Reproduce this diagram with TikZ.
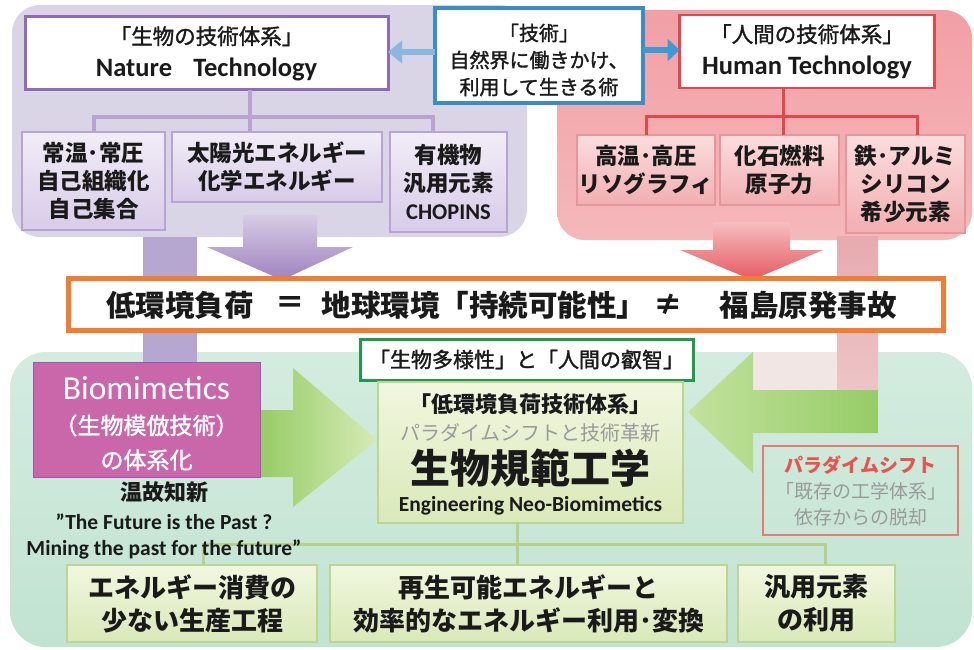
\documentclass[tikz,border=0pt]{standalone}
\usepackage{fontspec}
\setmainfont{Carlito}
\newfontfamily\jp{Noto Sans CJK JP}
\newfontfamily\jpm[FakeBold=1.5]{Noto Sans CJK JP}
\usetikzlibrary{arrows.meta}
\definecolor{purpleReg}{HTML}{DAD4E7}
\definecolor{purpleB}{HTML}{8E6CB4}
\definecolor{pchildTop}{HTML}{F2EDF7}
\definecolor{pchildBot}{HTML}{D8CBE8}
\definecolor{pchildB}{HTML}{B9A4D1}
\definecolor{redRegTop}{HTML}{F29FA5}
\definecolor{redRegBot}{HTML}{F5B8BB}
\definecolor{redB}{HTML}{E2474E}
\definecolor{rchildTop}{HTML}{FBDDDE}
\definecolor{rchildBot}{HTML}{F2AEB1}
\definecolor{rchildB}{HTML}{E5979B}
\definecolor{blueB}{HTML}{3B8DC9}
\definecolor{arrowL}{HTML}{8AB7DF}
\definecolor{arrowR}{HTML}{3E9AD6}
\definecolor{orangeB}{HTML}{F07D31}
\definecolor{greenRegTop}{HTML}{D3ECDF}
\definecolor{greenRegBot}{HTML}{C2E3D1}
\definecolor{greenB}{HTML}{1F9B4B}
\definecolor{magentaBox}{HTML}{C967AA}
\definecolor{garrow}{HTML}{96CC66}
\definecolor{garrowLight}{HTML}{D6EBB6}
\definecolor{centerTop}{HTML}{F1F7DF}
\definecolor{centerBot}{HTML}{D9E9B8}
\definecolor{centerB}{HTML}{BBD592}
\definecolor{connG}{HTML}{B8D08E}
\definecolor{purpleBar}{HTML}{B6A7D0}
\definecolor{pinkBar}{HTML}{E6ABAF}
\definecolor{paraRed}{HTML}{E8534F}
\definecolor{grayText}{HTML}{9A9A9A}
\definecolor{paraB}{HTML}{E87A72}
\definecolor{textDark}{HTML}{1A1A1A}
\definecolor{cornerFill}{HTML}{F1E6E3}
\begin{document}
\begin{tikzpicture}[x=1pt,y=-1pt,
  every node/.style={inner sep=0pt, outer sep=0pt, text=textDark},
  whitebox/.style={rectangle, fill=white, align=center},
  pchild/.style={rectangle, draw=pchildB, line width=1.5pt, top color=pchildTop, bottom color=pchildBot, align=center,
     font=\jp\bfseries\fontsize{22.5}{28}\selectfont},
  rchild/.style={rectangle, draw=rchildB, line width=1.5pt, top color=rchildTop, bottom color=rchildBot, align=center,
     font=\jp\bfseries\fontsize{22.5}{28}\selectfont},
  gchild/.style={rectangle, draw=centerB, line width=1.5pt, top color=centerTop, bottom color=centerBot, align=center,
     font=\jp\bfseries\fontsize{26}{33}\selectfont},
  pconn/.style={draw=pchildB, line width=4pt},
  rconn/.style={draw=redB, line width=3pt},
  gconn/.style={draw=connG, line width=3pt},
  barjp/.style={font=\jp\bfseries\fontsize{29.5}{30}\selectfont}
]
\useasboundingbox (0,0) rectangle (974,650);

% ---------- background regions ----------
\fill[purpleReg, rounded corners=28pt] (12,5) rectangle (527,237);
\shade[top color=redRegTop, bottom color=redRegBot, rounded corners=28pt] (557,10) rectangle (972,240);
\shade[top color=greenRegTop, bottom color=greenRegBot, rounded corners=36pt] (10,352) rectangle (972,647);
\fill[cornerFill] (753,352) rectangle (837,390);

% ---------- vertical bars ----------
\fill[purpleBar] (143,237) rectangle (197,362);
\shade[top color=pinkBar, bottom color=pinkBar!70!white] (837,236) rectangle (878,391);

% ---------- top boxes ----------
\node[whitebox, draw=purpleB, line width=3pt, minimum width=363pt, minimum height=73pt,
      font=\fontsize{21.5}{32}\selectfont] (nature) at (206.5,53.5)
  {{\jpm 「生物の技術体系」}\\{\bfseries\fontsize{26.5}{32}\selectfont Nature\hspace{0.8em}Technology}};
\node[whitebox, draw=redB, line width=2.5pt, minimum width=255pt, minimum height=73pt,
      font=\fontsize{21.5}{32}\selectfont] (human) at (807,51.5)
  {{\jpm 「人間の技術体系」}\\{\bfseries\fontsize{26.5}{32}\selectfont Human Technology}};
\node[whitebox, draw=blueB, line width=4pt, minimum width=208pt, minimum height=95pt] (tech) at (539,55.5) {};
\node[align=center, font=\jpm\fontsize{20}{27}\selectfont] (techtxt) at (539,60)
  {「技術」\\自然界に働きかけ、\\利用して生きる術};

\draw[arrowL, line width=6pt, -{Triangle[length=14pt,width=22pt]}] (tech.west |- 0,52) -- (nature.east |- 0,52);
\draw[arrowR, line width=6pt, -{Triangle[length=12pt,width=22pt]}] (tech.east |- 0,50) -- (human.west |- 0,50);

% ---------- purple children ----------
\node[pchild, minimum width=143pt, minimum height=98pt] (p1) at (93.5,181) {常温･常圧\\自己組織化\\自己集合};
\node[pchild, minimum width=210pt, minimum height=70pt] (p2) at (277,167) {太陽光エネルギー\\化学エネルギー};
\node[pchild, minimum width=117pt, minimum height=100pt] (p3) at (448.5,182)
  {有機物\\汎用元素\\{\normalfont\bfseries\fontsize{22.5}{28}\selectfont CHOPINS}};
\coordinate (pj) at (250,117);
\coordinate (pr) at (433,117);
\draw[pconn] (pj |- nature.south) -- (pj |- p2.north);
\draw[pconn] (p1.north) |- (pr) -- (pr |- p3.north);

% ---------- red children ----------
\node[rchild, minimum width=138pt, minimum height=70pt] (r1) at (646,170) {高温･高圧\\リソグラフィ};
\node[rchild, minimum width=119pt, minimum height=70pt] (r2) at (779.5,170) {化石燃料\\原子力};
\node[rchild, minimum width=119pt, minimum height=98pt] (r3) at (905.5,184) {鉄･アルミ\\シリコン\\希少元素};
\coordinate (rj) at (783,117);
\coordinate (rr) at (917,117);
\draw[rconn] (rj |- human.south) -- (rj |- r2.north);
\draw[rconn] (r1.north) |- (rr) -- (rr |- r3.north);

% ---------- big down arrows ----------
\shade[top color=purpleB!35!white, bottom color=purpleB!85!white]
  (243,215) -- (317,215) -- (317,247) -- (353,247) -- (282,280) -- (207,247) -- (243,247) -- cycle;
\shade[top color=redB!35!white, bottom color=redB!90!white]
  (713,222) -- (790,222) -- (790,250) -- (823,250) -- (752,280) -- (680,250) -- (713,250) -- cycle;

% ---------- central orange bar ----------
\node[whitebox, draw=orangeB, line width=5pt, minimum width=875pt, minimum height=52pt] (bar) at (505.5,304.5) {};
\node[barjp] (b1) at (180,305) {低環境負荷};
\node[barjp] (b2) at (290,305) {＝};
\node[barjp] (b3) at (484,305) {地球環境「持続可能性」};
\node[barjp] (b4) at (668,305) {≠};
\node[barjp] (b5) at (808,305) {福島原発事故};

% ---------- green arrows ----------
\shade[left color=garrow, right color=garrowLight]
  (260,410) -- (293,410) -- (293,368) -- (377,440) -- (293,507) -- (293,477) -- (260,477) -- cycle;
\shade[left color=garrowLight!70!garrow, right color=garrow]
  (688,412) -- (753,352) -- (753,390) -- (878,390) -- (878,433) -- (753,433) -- (753,473) -- cycle;

% ---------- label box ----------
\node[whitebox, draw=greenB, line width=3pt, minimum width=333pt, minimum height=41pt,
      font=\jpm\fontsize{21}{21}\selectfont] (wisdom) at (526.5,359.5) {「生物多様性」と「人間の叡智」};

% ---------- center box ----------
\node[rectangle, draw=centerB, line width=1.5pt, top color=centerTop, bottom color=centerBot,
      minimum width=305pt, minimum height=141pt] (center) at (530.5,452.5) {};

% ---------- bottom boxes and connectors ----------
\node[gchild, minimum width=250pt, minimum height=77pt] (g1) at (192,603.5) {エネルギー消費の\\少ない生産工程};
\node[gchild, minimum width=397pt, minimum height=77pt] (g2) at (528.5,603.5) {再生可能エネルギーと\\効率的なエネルギー利用･変換};
\node[gchild, minimum width=157pt, minimum height=77pt] (g3) at (816.5,603.5) {汎用元素\\の利用};
\coordinate (gj) at (517,544);
\coordinate (gl) at (203,544);
\coordinate (gr) at (825,544);
\draw[gconn] (center.south -| gj) -- (gj);
\draw[gconn] (gl |- g1.north) -- (gl) -- (gr) -- (gr |- g3.north);
\draw[gconn] (gj) -- (gj |- g2.north);

\node[font=\jp\bfseries\fontsize{22}{22}\selectfont] (c1) at (530.5,404) {「低環境負荷技術体系」};
\node[font=\jp\fontsize{20}{20}\selectfont, text=grayText] (c2) at (530.5,433) {パラダイムシフトと技術革新};
\node[font=\jp\bfseries\fontsize{40}{40}\selectfont] (c3) at (530.5,468) {生物規範工学};
\node[font=\bfseries\fontsize{21.5}{21.5}\selectfont] (c4) at (530.5,506) {Engineering Neo-Biomimetics};

% ---------- biomimetics ----------
\node[rectangle, fill=magentaBox, draw=magentaBox!80!blue, line width=1pt, minimum width=227pt, minimum height=115pt] (bio) at (146.5,419.5) {};
\node[align=center, text=white, font=\fontsize{23}{34.5}\selectfont] (biotxt) at (146.5,423.5)
  {{\fontsize{33.5}{34.5}\selectfont Biomimetics}\\{\jpm （生物模倣技術）}\\{\jpm の体系化}};

\node[font=\jp\bfseries\fontsize{22}{22}\selectfont] (onko) at (164,492) {温故知新};
\node[font=\bfseries\fontsize{21.5}{21.5}\selectfont] (q1) at (164,522) {”The Future is the Past ?};
\node[font=\bfseries\fontsize{21.5}{21.5}\selectfont] (q2) at (164,549) {Mining the past for the future"};

% ---------- paradigm box ----------
\node[rectangle, draw=paraB, line width=1.5pt, minimum width=195pt, minimum height=89pt] (para) at (860.5,490.5) {};
\node[align=center, font=\jp\fontsize{19}{26}\selectfont, text=grayText] (paratxt) at (860.5,491)
  {{\bfseries\color{paraRed}パラダイムシフト}\\「既存の工学体系」\\依存からの脱却};
\end{tikzpicture}
\end{document}
